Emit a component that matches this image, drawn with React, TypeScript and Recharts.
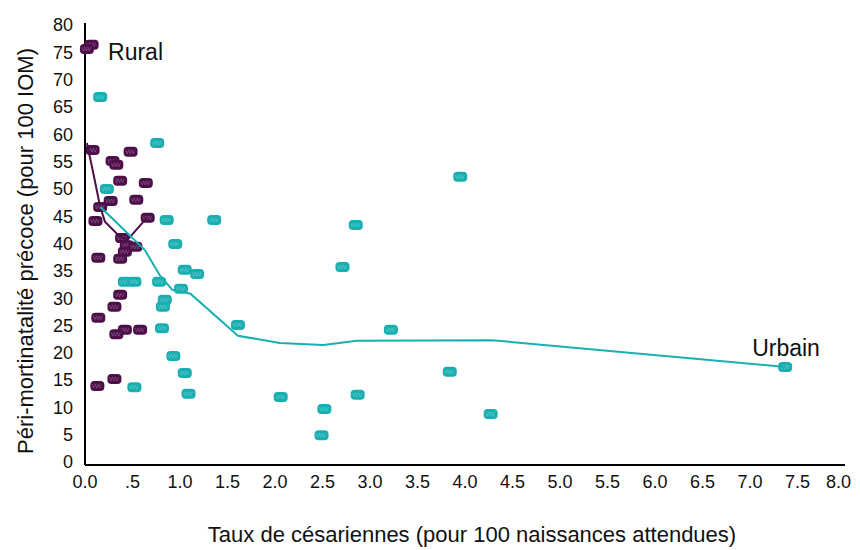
import { ScatterChart, Scatter, XAxis, YAxis, ReferenceDot, Label } from 'recharts';

const RURAL = '#4d0e4a';
const URBAIN = '#19aeb0';

// points observés - rural
const ruralTaux = [0.07, 0.02, 0.08, 0.48, 0.29, 0.33, 0.37, 0.64, 0.27, 0.54, 0.16, 0.11, 0.66, 0.39, 0.44, 0.53, 0.42, 0.14, 0.37, 0.37, 0.31, 0.14, 0.42, 0.58, 0.33, 0.31, 0.13];
const ruralMort = [76.4, 75.6, 57.1, 56.8, 55.1, 54.4, 51.5, 51.1, 47.8, 48.0, 46.7, 44.1, 44.7, 41.0, 39.7, 39.4, 38.5, 37.4, 37.2, 30.6, 28.4, 26.4, 24.2, 24.2, 23.4, 15.2, 13.9];

// points observés - urbain
const urbainTaux = [0.16, 0.76, 0.23, 0.86, 1.36, 0.95, 1.05, 1.18, 0.42, 0.52, 0.78, 1.01, 0.84, 0.82, 0.81, 0.93, 1.05, 0.52, 1.09, 2.85, 3.95, 2.71, 1.61, 3.22, 2.06, 2.52, 2.49, 2.87, 3.84, 4.27, 7.37];
const urbainMort = [66.8, 58.4, 50.0, 44.3, 44.3, 39.9, 35.2, 34.4, 33.0, 33.0, 33.0, 31.7, 29.7, 28.4, 24.5, 19.4, 16.3, 13.7, 12.5, 43.4, 52.2, 35.7, 25.1, 24.2, 11.9, 9.7, 4.9, 12.3, 16.5, 8.8, 17.4];

// courbes lissées
const ruralCourbeX = [0.02, 0.08, 0.16, 0.21, 0.37, 0.45, 0.65];
const ruralCourbeY = [58.4, 53.5, 46.7, 44.0, 41.2, 40.7, 44.7];
const urbainCourbeX = [0.16, 0.28, 0.63, 0.79, 0.92, 1.11, 1.61, 2.05, 2.51, 2.86, 4.28, 7.37];
const urbainCourbeY = [46.7, 44.7, 38.8, 34.1, 31.5, 30.8, 23.1, 21.8, 21.4, 22.2, 22.3, 17.4];

const xTicks = [0, 0.5, 1, 1.5, 2, 2.5, 3, 3.5, 4, 4.5, 5, 5.5, 6, 6.5, 7, 7.5, 8];
const yTicks = [0, 5, 10, 15, 20, 25, 30, 35, 40, 45, 50, 55, 60, 65, 70, 75, 80];

const toPoints = (xs: number[], ys: number[]) => xs.map((x, i) => ({ x, y: ys[i] }));

const ruralData = toPoints(ruralTaux, ruralMort);
const urbainData = toPoints(urbainTaux, urbainMort);
const ruralCourbe = toPoints(ruralCourbeX, ruralCourbeY);
const urbainCourbe = toPoints(urbainCourbeX, urbainCourbeY);

const font = '"Liberation Sans", Arial, sans-serif';

const marker = (color: string) => (props: any) => {
  const { cx, cy } = props;
  return (
    <g>
      <rect x={cx - 7} y={cy - 5} width={14} height={10} rx={4} fill={color} />
      <path
        d={`M${cx - 5} ${cy - 2} l1.5 4 l1.5 -4 l1.5 4 l1.5 -4 l1.5 4 l1.5 -4`}
        stroke="#ffffff"
        strokeOpacity={0.25}
        strokeWidth={0.8}
        fill="none"
      />
    </g>
  );
};

const noDot = () => <g />;

const fmtX = (v: number) => (v === 0 ? '0.0' : v < 1 ? '.5' : v.toFixed(1));

// le dernier libellé est calé à droite pour ne pas sortir du cadre
const XTick = (props: any) => {
  const { x, y, payload } = props;
  const last = payload.value === 8;
  return (
    <text
      x={last ? x + 6 : x}
      y={y}
      dy="0.71em"
      textAnchor={last ? 'end' : 'middle'}
      fontSize={18}
      fontFamily={font}
      fill="#111"
    >
      {fmtX(payload.value)}
    </text>
  );
};

const YTitle = (props: any) => {
  const { viewBox } = props;
  const cx = 17;
  const cy = viewBox.y + viewBox.height / 2 + 7;
  return (
    <text
      x={cx}
      y={cy}
      transform={`rotate(-90 ${cx} ${cy})`}
      textAnchor="middle"
      dominantBaseline="central"
      fontSize={22}
      fontFamily={font}
      fill="#111"
    >
      Péri-mortinatalité précoce (pour 100 IOM)
    </text>
  );
};

const XTitle = (props: any) => {
  const { viewBox } = props;
  const cx = viewBox.x + viewBox.width / 2 + 7;
  const cy = viewBox.y + 69;
  return (
    <text x={cx} y={cy} textAnchor="middle" dominantBaseline="central" fontSize={22} fontFamily={font} fill="#111">
      Taux de césariennes (pour 100 naissances attendues)
    </text>
  );
};

export default function App() {
  return (
    <div style={{ width: 844, height: 542, background: '#fff' }}>
      <ScatterChart width={844} height={542} margin={{ top: 15, right: 7, left: 0, bottom: 0 }}>
        <XAxis
          type="number"
          dataKey="x"
          domain={[0, 8]}
          ticks={xTicks}
          tick={XTick}
          tickLine={false}
          tickMargin={4}
          height={85}
          axisLine={{ stroke: '#000', strokeWidth: 2 }}
          interval={0}
        >
          <Label content={XTitle} />
        </XAxis>
        <YAxis
          type="number"
          dataKey="y"
          domain={[-0.55, 80.37]}
          ticks={yTicks}
          tickLine={false}
          tickMargin={6}
          width={77}
          axisLine={{ stroke: '#000', strokeWidth: 2 }}
          tick={{ fontSize: 18, fill: '#111', fontFamily: font }}
          interval={0}
        >
          <Label content={YTitle} />
        </YAxis>
        <Scatter data={ruralData} fill={RURAL} shape={marker(RURAL)} isAnimationActive={false} />
        <Scatter data={urbainData} fill={URBAIN} shape={marker(URBAIN)} isAnimationActive={false} />
        <Scatter
          data={ruralCourbe}
          fill={RURAL}
          line={{ stroke: RURAL, strokeWidth: 2 }}
          shape={noDot}
          isAnimationActive={false}
        />
        <Scatter
          data={urbainCourbe}
          fill={URBAIN}
          line={{ stroke: URBAIN, strokeWidth: 2 }}
          shape={noDot}
          isAnimationActive={false}
        />
        <ReferenceDot
          x={0.19}
          y={75.1}
          r={0}
          fill="none"
          stroke="none"
          label={{ value: 'Rural', position: 'right', fontSize: 23, fill: '#111', fontFamily: font }}
        />
        <ReferenceDot
          x={6.97}
          y={20.9}
          r={0}
          fill="none"
          stroke="none"
          label={{ value: 'Urbain', position: 'right', fontSize: 23, fill: '#111', fontFamily: font }}
        />
      </ScatterChart>
    </div>
  );
}
